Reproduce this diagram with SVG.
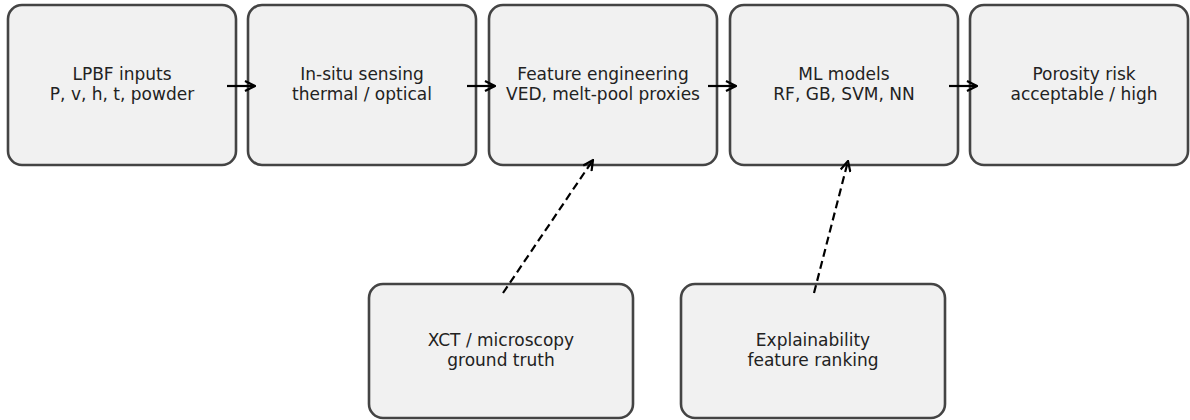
<svg xmlns="http://www.w3.org/2000/svg" width="1190" height="420" viewBox="0 0 1190 420">
<defs>
<style>
.box{fill:#f1f1f1;stroke:#444;stroke-width:2.6}
.t{font-family:"DejaVu Sans",sans-serif;font-size:17px;fill:#222;text-anchor:middle}
.c{fill:none;stroke:#000;stroke-width:2.2}
.d{stroke-dasharray:8,4.5}
</style>
<marker id="ah" viewBox="0 0 12 12" refX="11" refY="6" markerWidth="12" markerHeight="12" markerUnits="userSpaceOnUse" orient="auto">
<path d="M1,1 L11,6 L1,11" fill="none" stroke="#000" stroke-width="2.2"/>
</marker>
</defs>
<rect width="1190" height="420" fill="#fff"/>
<g id="n1"><rect class="box" x="8" y="5" width="228" height="160" rx="14"/><text class="t" x="122" y="80">LPBF inputs</text><text class="t" x="122" y="100">P, v, h, t, powder</text></g>
<g id="n2"><rect class="box" x="248" y="5" width="228" height="160" rx="14"/><text class="t" x="362" y="80">In-situ sensing</text><text class="t" x="362" y="100">thermal / optical</text></g>
<g id="n3"><rect class="box" x="489" y="5" width="228" height="160" rx="14"/><text class="t" x="603" y="80">Feature engineering</text><text class="t" x="603" y="100">VED, melt-pool proxies</text></g>
<g id="n4"><rect class="box" x="730" y="5" width="228" height="160" rx="14"/><text class="t" x="844" y="80">ML models</text><text class="t" x="844" y="100">RF, GB, SVM, NN</text></g>
<g id="n5"><rect class="box" x="970" y="5" width="218" height="160" rx="14"/><text class="t" x="1084" y="80">Porosity risk</text><text class="t" x="1084" y="100">acceptable / high</text></g>
<g id="n6"><rect class="box" x="369" y="284" width="264" height="134" rx="14"/><text class="t" x="501" y="346">XCT / microscopy</text><text class="t" x="501" y="366">ground truth</text></g>
<g id="n7"><rect class="box" x="681" y="284" width="264" height="134" rx="14"/><text class="t" x="813" y="346">Explainability</text><text class="t" x="813" y="366">feature ranking</text></g>
<g id="connectors">
<line class="c" x1="227" y1="86" x2="255" y2="86" marker-end="url(#ah)"/>
<line class="c" x1="467" y1="86" x2="495" y2="86" marker-end="url(#ah)"/>
<line class="c" x1="708" y1="86" x2="736" y2="86" marker-end="url(#ah)"/>
<line class="c" x1="949" y1="86" x2="977" y2="86" marker-end="url(#ah)"/>
<line class="c d" x1="503" y1="293" x2="593" y2="160" marker-end="url(#ah)"/>
<line class="c d" x1="814" y1="293" x2="848" y2="161" marker-end="url(#ah)"/>
</g>
</svg>
